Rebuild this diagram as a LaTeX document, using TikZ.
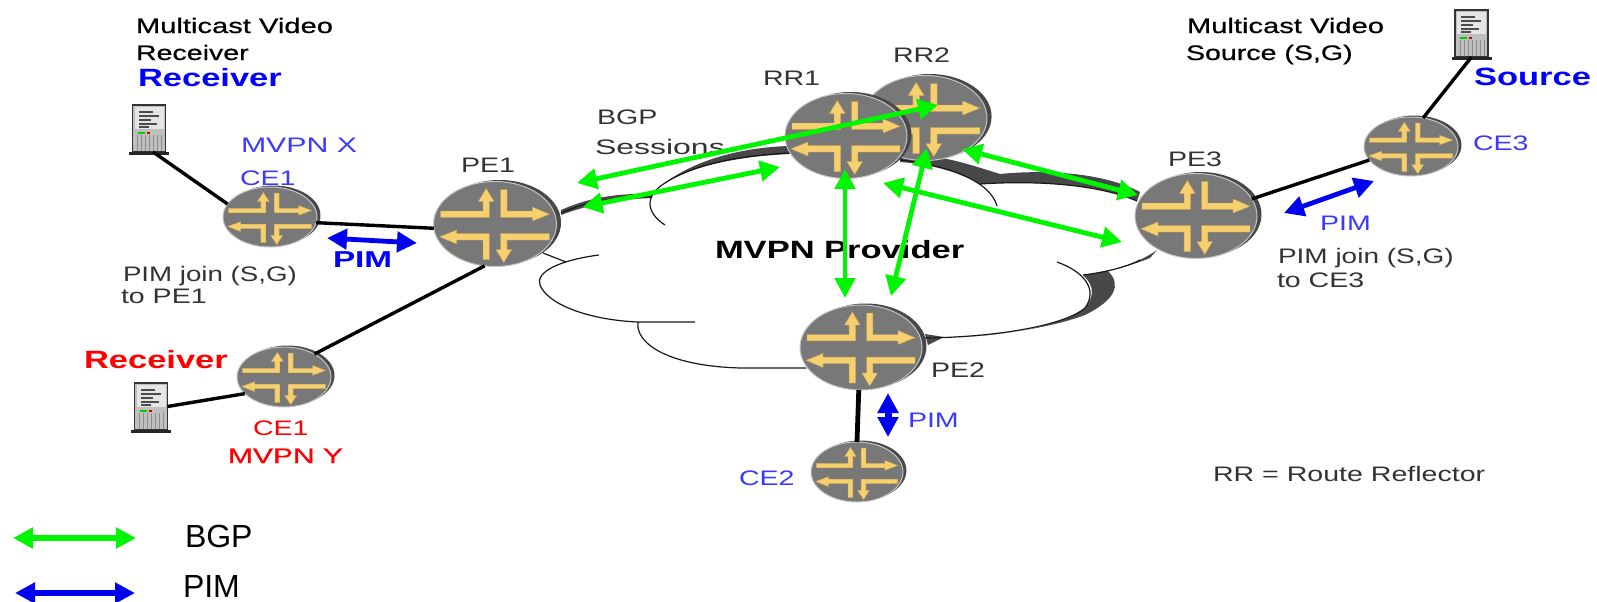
\documentclass[tikz,border=0pt]{standalone}
\usepackage{fontspec}
\usetikzlibrary{shapes.geometric,arrows.meta}
\setmainfont{Liberation Sans}
\newfontfamily\widereg{Liberation Sans}[FakeStretch=1.36]
\newfontfamily\widemed{Liberation Sans}[FakeStretch=1.36,FakeBold=0.6]
\newfontfamily\widebf{Liberation Sans Bold}[FakeStretch=1.38]
\definecolor{rgray}{HTML}{787878}
\definecolor{rrim}{HTML}{C4C4C4}
\definecolor{rshade}{HTML}{484848}
\definecolor{ryellow}{HTML}{F6CF6E}
\definecolor{redge}{HTML}{C9A75A}
\definecolor{lblue}{HTML}{3A3AFF}
\definecolor{lgreen}{HTML}{00F500}
\definecolor{lpim}{HTML}{0000F0}
\definecolor{ltext}{HTML}{333333}
\tikzset{
  routerbody/.style={ellipse,inner sep=0pt,outer sep=0pt,fill=rgray,draw=rrim,line width=0.5pt},
  rglyph/.style={fill=ryellow,draw=redge,line width=0.2pt,line join=round},
  srvbody/.style={rectangle,inner sep=0pt,outer sep=0pt,fill=black!25,draw=black!80,line width=0.6pt},
  txt/.style={anchor=base west,inner sep=0pt,outer sep=0pt},
  sq/.style={xscale=#1,transform shape},
  lnk/.style={draw=black,line width=1.7pt},
  lnkthick/.style={draw=black,line width=2.4pt},
  cloudline/.style={draw=black!90,line width=0.6pt},
  cloudshade/.style={fill=rshade},
  twoheads/.style={{Triangle[length=10pt,width=10pt]}-{Triangle[length=10pt,width=10pt]}},
  bgpa/.style={draw=lgreen,line width=2.4pt,twoheads},
  pima/.style={draw=lpim,line width=2.4pt,twoheads},
}
% name, x, y, rx, ry (pixels)
\newcommand{\rtr}[5]{%
  \fill[rshade] (#2+#4/61*4.5,#3-1.5) ellipse [x radius=#4,y radius=#5];
  \node[routerbody,minimum width=#4pt,minimum height=#5pt] (#1) at (#2,#3) {};
  \begin{scope}[shift={(#2,#3+1.5)},xscale={#4/61},yscale={#5/42.5}]
    \filldraw[rglyph] (-54,-14.5) -- (-11.9,-14.5) -- (-11.9,-24) -- (-16.5,-24) -- (-8.7,-37) -- (-0.9,-24) -- (-5.5,-24) -- (-5.5,-8.1) -- (-54,-8.1) -- cycle;
    \filldraw[rglyph] (5.5,-36) -- (11.9,-36) -- (11.9,-14.5) -- (37,-14.5) -- (37,-18.5) -- (54,-11.3) -- (37,-4.5) -- (37,-8.1) -- (5.5,-8.1) -- cycle;
    \filldraw[rglyph] (-55,11.3) -- (-38,4.5) -- (-38,8.1) -- (-5.5,8.1) -- (-5.5,34) -- (-11.9,34) -- (-11.9,14.5) -- (-38,14.5) -- (-38,18.5) -- cycle;
    \filldraw[rglyph] (54,8.1) -- (54,14.5) -- (11.9,14.5) -- (11.9,24) -- (16.5,24) -- (8.7,37) -- (0.9,24) -- (5.5,24) -- (5.5,8.1) -- cycle;
  \end{scope}}
% name, centre x, centre y of the 33x47 body
\newcommand{\srv}[3]{%
  \node[srvbody,minimum width=16.5pt,minimum height=23.5pt] (#1) at (#2,#3) {};
  \begin{scope}[shift={(#2-16.5,#3-23.5)}]
    \fill[black!10] (2,2) rectangle (31,24);
    \foreach \yy/\xx in {6/20,10/26,14/18,18/24,21/16} {\fill[black!70] (6,\yy) rectangle (\xx,\yy+1.6);}
    \fill[green!80!black] (5,26.5) rectangle (12,28.5);
    \fill[red!80!black] (14,26.5) rectangle (17,28.5);
    \foreach \xx in {5,9,...,29} {\draw[black!45,line width=0.3pt] (\xx,30) -- (\xx,46);}
    \fill[black!85] (-3.5,47) rectangle (36.5,49.5);
  \end{scope}}
\begin{document}
\begin{tikzpicture}[x=0.5pt,y=-0.5pt]
\useasboundingbox (0,0) rectangle (1597,601);
\fill[white] (0,0) rectangle (1597,601);
% cloud shading
\fill[cloudshade] (561,210) .. controls (590,197) and (620,193) .. (652,194) -- (652,198) .. controls (620,199) and (590,204) .. (561,215) -- cycle;
\fill[cloudshade] (664,184) .. controls (695,159) and (745,147) .. (790,146) -- (790,154) .. controls (745,156) and (695,164) .. (664,184) -- cycle;
\fill[cloudshade] (900,155) .. controls (935,153) and (965,163) .. (1000,174) .. controls (1040,170) and (1100,171) .. (1140,192) -- (1137,201) .. controls (1100,185) and (1040,180) .. (980,184) .. controls (960,172) and (930,164) .. (900,162) -- cycle;
\fill[cloudshade] (1157,250) .. controls (1140,262) and (1122,267) .. (1108,271) .. controls (1122,285) and (1115,300) .. (1085,315) .. controls (1050,328) and (1000,335) .. (960,337) .. controls (1010,335) and (1065,325) .. (1085,308) .. controls (1098,292) and (1090,282) .. (1083,275) .. controls (1100,273) and (1125,268) .. (1150,258) -- cycle;
\fill[cloudshade] (925,334) -- (944,337) -- (928,345) -- cycle;
% cloud outline
\draw[cloudline] (561,213) .. controls (590,200) and (620,197) .. (652,197);
\draw[cloudline] (665,225) .. controls (645,212) and (645,195) .. (665,183) .. controls (695,163) and (745,155) .. (790,153);
\draw[cloudline] (900,160) .. controls (945,165) and (990,180) .. (997,206);
\draw[cloudline] (980,184) .. controls (1040,180) and (1100,185) .. (1137,201);
\draw[cloudline] (1140,260) .. controls (1125,268) and (1100,273) .. (1083,275);
\draw[cloudline] (1057,262) .. controls (1085,272) and (1098,290) .. (1085,308) .. controls (1065,325) and (1000,337) .. (925,338);
\draw[cloudline] (543,253) -- (566,262);
\draw[cloudline] (599,255) .. controls (560,260) and (535,272) .. (540,285) .. controls (548,305) and (590,320) .. (638,322) -- (695,322);
\draw[cloudline] (638,322) .. controls (635,342) and (665,366) .. (741,368) -- (806,368);
% routers and servers
\rtr{RRtwo}{925}{118}{62}{42.5}
\rtr{RRone}{846}{136}{61}{42.5}
\rtr{PEone}{495}{224}{61.5}{42.5}
\rtr{PEtwo}{861}{347.5}{61}{42.5}
\rtr{PEthree}{1196}{216}{61}{42.5}
\rtr{CEx}{270}{217}{47}{30}
\rtr{CEy}{284}{377}{47}{30}
\rtr{CEtwo}{857}{472}{46}{30}
\rtr{CEthree}{1411}{146.5}{47}{29.5}
\srv{SrvX}{149}{128.5}
\srv{SrvY}{151}{406.5}
\srv{SrvS}{1471.5}{33.5}
% access links
\draw[lnk] (SrvX.-80) -- (CEx.163);
\draw[lnk] (CEx.-7) -- (PEone.184);
\draw[lnk] (PEone.256) -- (CEy.37);
\draw[lnk] (CEy.203) -- (SrvY.east);
\draw[lnkthick] (PEtwo.267) -- (CEtwo.north);
\draw[lnk] (PEthree.17) -- (CEthree.198);
\draw[lnk] (CEthree.67) -- (SrvS.-90);
% labels
\node[txt,sq=1.02,font=\widemed\fontsize{10.5}{12}\selectfont] (tA) at (136,33) {Multicast Video};
\node[txt,font=\widemed\fontsize{10.5}{12}\selectfont] (tB) at (136,60) {Receiver};
\node[txt,font=\widebf\fontsize{12.5}{14}\selectfont,text=blue] (tC) at (138,86) {Receiver};
\node[txt,sq=1.06,font=\widereg\fontsize{10.5}{12}\selectfont,text=lblue] (tD) at (241,152.5) {MVPN X};
\node[txt,font=\widereg\fontsize{10.5}{12}\selectfont,text=lblue] (tE) at (240,185) {CE1};
\node[txt,font=\widereg\fontsize{10.5}{12}\selectfont,text=ltext] (tF) at (461,172) {PE1};
\node[txt,sq=1.05,font=\widebf\fontsize{11.5}{13}\selectfont,text=blue] (tG) at (333,267) {PIM};
\node[txt,sq=0.97,font=\widereg\fontsize{10.5}{12}\selectfont,text=ltext] (tH) at (123,281) {PIM join (S,G)};
\node[txt,font=\widereg\fontsize{10.5}{12}\selectfont,text=ltext] (tI) at (121,303) {to PE1};
\node[txt,font=\widebf\fontsize{12.5}{14}\selectfont,text=red] (tJ) at (84,368) {Receiver};
\node[txt,font=\widereg\fontsize{10.5}{12}\selectfont,text=red] (tK) at (253,435) {CE1};
\node[txt,sq=1.05,font=\widemed\fontsize{10.5}{12}\selectfont,text=red] (tL) at (228,463) {MVPN Y};
\node[txt,font=\fontsize{16}{18}\selectfont] (tM) at (185,547) {BGP};
\node[txt,font=\fontsize{16}{18}\selectfont] (tN) at (183,597) {PIM};
\node[txt,font=\widereg\fontsize{10.5}{12}\selectfont,text=ltext] (tO) at (597,124) {BGP};
\node[txt,sq=1.12,font=\widereg\fontsize{10.5}{12}\selectfont,text=ltext] (tP) at (595,154) {Sessions};
\node[txt,font=\widereg\fontsize{10.5}{12}\selectfont,text=ltext] (tQ) at (763,85) {RR1};
\node[txt,font=\widereg\fontsize{10.5}{12}\selectfont,text=ltext] (tR) at (893,62) {RR2};
\node[txt,font=\widebf\fontsize{12.5}{14}\selectfont] (tS) at (715,258) {MVPN Provider};
\node[txt,font=\widereg\fontsize{10.5}{12}\selectfont,text=ltext] (tT) at (931,377) {PE2};
\node[txt,font=\widereg\fontsize{10.5}{12}\selectfont,text=lblue] (tU) at (908,427) {PIM};
\node[txt,font=\widereg\fontsize{10.5}{12}\selectfont,text=lblue] (tV) at (739,485) {CE2};
\node[txt,font=\widereg\fontsize{10.5}{12}\selectfont,text=ltext] (tW) at (1213,481.5) {RR = Route Reflector};
\node[txt,sq=1.02,font=\widemed\fontsize{10.5}{12}\selectfont] (tX) at (1187,33) {Multicast Video};
\node[txt,font=\widemed\fontsize{10.5}{12}\selectfont] (tY) at (1186,60) {Source (S,G)};
\node[txt,font=\widebf\fontsize{12.5}{14}\selectfont,text=blue] (tZ) at (1474,85) {Source};
\node[txt,font=\widereg\fontsize{10.5}{12}\selectfont,text=lblue] (uA) at (1473,150) {CE3};
\node[txt,font=\widereg\fontsize{10.5}{12}\selectfont,text=ltext] (uB) at (1168,166) {PE3};
\node[txt,font=\widereg\fontsize{10.5}{12}\selectfont,text=lblue] (uC) at (1320,230) {PIM};
\node[txt,sq=0.98,font=\widereg\fontsize{10.5}{12}\selectfont,text=ltext] (uD) at (1278,263) {PIM join (S,G)};
\node[txt,font=\widereg\fontsize{10.5}{12}\selectfont,text=ltext] (uE) at (1277,287) {to CE3};
% session end points
\coordinate (ga) at (577,183);  \coordinate (gb) at (938,105);
\coordinate (gc) at (582.5,207);\coordinate (gd) at (780,167);
\coordinate (ge) at (845,169);  \coordinate (gf) at (845,298);
\coordinate (gg) at (927,148);  \coordinate (gh) at (891,296);
\coordinate (gi) at (962,149);  \coordinate (gj) at (1138,195);
\coordinate (gk) at (883,183);  \coordinate (gl) at (1122,242);
\coordinate (pa) at (327,238);  \coordinate (pb) at (417,243);
\coordinate (pc) at (1284,213); \coordinate (pd) at (1374,181);
\coordinate (pe) at (888,393);  \coordinate (pf) at (888,437);
\coordinate (la) at (13,538);   \coordinate (lb) at (136,538);
\coordinate (lc) at (15,593);   \coordinate (ld) at (135,593);
\draw[bgpa] (ga) -- (gb);
\draw[bgpa] (gc) -- (gd);
\draw[bgpa] (ge) -- (gf);
\draw[bgpa] (gg) -- (gh);
\draw[bgpa] (gi) -- (gj);
\draw[bgpa] (gk) -- (gl);
\draw[pima] (pa) -- (pb);
\draw[pima] (pc) -- (pd);
\draw[pima,line width=3.5pt] (pe) -- (pf);
\draw[bgpa,line width=3pt] (la) -- (lb);
\draw[pima,line width=3pt] (lc) -- (ld);
\end{tikzpicture}
\end{document}
